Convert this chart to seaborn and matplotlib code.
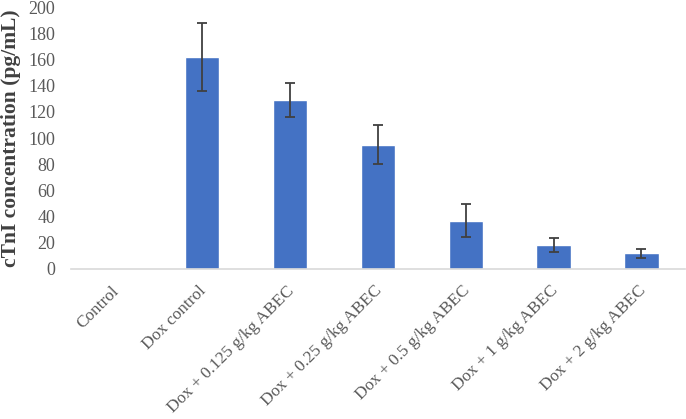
import matplotlib
matplotlib.use("Agg")
import matplotlib.pyplot as plt
import matplotlib.transforms as mtransforms
import numpy as np
import pandas as pd
import seaborn as sns

groups = ['Control', 'Dox control', 'Dox + 0.125 g/kg ABEC', 'Dox + 0.25 g/kg ABEC',
          'Dox + 0.5 g/kg ABEC', 'Dox + 1 g/kg ABEC', 'Dox + 2 g/kg ABEC']
ctni = [0, 162, 129, 95, 37, 18.5, 12]
ctni_err = [0, 26, 13, 15, 12.5, 5.5, 3.5]

sns.set_theme(style="white")
plt.rcParams['font.family'] = ['Liberation Serif', 'DejaVu Serif']

df = pd.DataFrame({'group': groups, 'ctni': ctni})

fig, ax = plt.subplots(figsize=(6.86, 4.19), dpi=100)
sns.barplot(data=df, x='group', y='ctni', color='#4472C4', saturation=1,
            width=0.39, errorbar=None, ax=ax)
x = np.arange(len(groups))
mask = np.array(ctni_err) > 0
ax.errorbar(x[mask], np.array(ctni)[mask], yerr=np.array(ctni_err)[mask],
            fmt='none', ecolor='#404040', elinewidth=1.3, capsize=3.5, capthick=1.3)

ax.set_ylim(0, 200)
ax.set_yticks(np.arange(0, 201, 20))
ax.set_xlim(-0.5, len(groups) - 0.5)
ax.tick_params(axis='y', labelsize=13, labelcolor='#595959', length=0, pad=11)
ax.tick_params(axis='x', labelsize=12.4, labelcolor='#595959', length=0, pad=10)
plt.setp(ax.get_xticklabels(), rotation=45, ha='right', rotation_mode='anchor')
shift = mtransforms.ScaledTranslation(-4 / 100, 0, fig.dpi_scale_trans)
for lab in ax.get_xticklabels():
    lab.set_transform(lab.get_transform() + shift)
ax.set_xlabel('')
ax.set_ylabel('cTnI concentration (pg/mL)', fontsize=15.5, fontweight='bold',
              color='#404040', labelpad=5)

for s in ['top', 'right', 'left']:
    ax.spines[s].set_visible(False)
ax.spines['bottom'].set_color('#D9D9D9')
ax.spines['bottom'].set_linewidth(1.2)

plt.subplots_adjust(left=0.103, right=0.999, top=0.983, bottom=0.358)
plt.savefig('out.png', dpi=100)
